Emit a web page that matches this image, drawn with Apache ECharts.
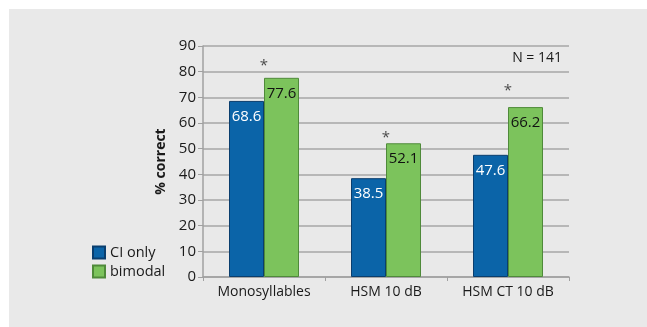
<!DOCTYPE html>
<html><head><meta charset="utf-8">
<script src="https://cdn.jsdelivr.net/npm/echarts@6/dist/echarts.min.js"></script>
<style>html,body{margin:0;padding:0;background:#fff}#c{position:absolute;left:9px;top:9px;width:638px;height:318px;background:#e9e9e9}</style>
</head><body><div id="c"></div>
<script>
const categories = ['Monosyllables', 'HSM 10 dB', 'HSM CT 10 dB'];
const ciOnly = [68.6, 38.5, 47.6];
const bimodal = [77.6, 52.1, 66.2];
const starY = [84, 56, 74];
const yTicks = [0, 10, 20, 30, 40, 50, 60, 70, 80, 90];
const font = 'Open Sans';
const chart = echarts.init(document.getElementById('c'));
chart.setOption({
  animation: false,
  textStyle: {fontFamily: font},
  grid: {left: 194, right: 78, top: 37, bottom: 50},
  legend: {
    data: ['CI only', 'bimodal'], orient: 'vertical', left: 78, top: 231,
    itemWidth: 12, itemHeight: 12, itemGap: 4, icon: 'rect',
    textStyle: {fontFamily: font, fontSize: 14.5, color: '#1a1a1a'}
  },
  xAxis: {
    type: 'category', data: categories,
    axisLine: {lineStyle: {color: '#a0a0a0', width: 1.5}},
    axisTick: {show: true, length: 4, lineStyle: {color: '#a0a0a0'}},
    axisLabel: {fontFamily: font, fontSize: 14, color: '#1a1a1a', margin: 8}
  },
  yAxis: {
    type: 'value', min: 0, max: 90, interval: 10,
    name: '% correct', nameLocation: 'middle', nameGap: 32, nameRotate: 90,
    nameTextStyle: {fontFamily: font, fontSize: 14, fontWeight: 'bold', color: '#1a1a1a'},
    axisLine: {show: true, lineStyle: {color: '#a0a0a0', width: 1.5}},
    axisTick: {show: true, length: 5, lineStyle: {color: '#a0a0a0'}},
    axisLabel: {fontFamily: font, fontSize: 15, color: '#1a1a1a', margin: 7,
      formatter: v => yTicks.includes(v) ? String(v) : ''},
    splitLine: {lineStyle: {color: '#a6a6a6', width: 1.5}}
  },
  series: [
    {name: 'CI only', type: 'bar', data: ciOnly, barWidth: 35, barGap: '0%',
     itemStyle: {color: '#0b64a8', borderColor: '#0a3e6e', borderWidth: 1},
     label: {show: true, position: 'insideTop', distance: 8, fontFamily: font, fontSize: 15, color: '#ffffff'}},
    {name: 'bimodal', type: 'bar', data: bimodal, barWidth: 35,
     itemStyle: {color: '#7cc35c', borderColor: '#4f8a3a', borderWidth: 1},
     label: {show: true, position: 'insideTop', distance: 8, fontFamily: font, fontSize: 15, color: '#111111'}},
    {name: 'sig', type: 'scatter', data: starY, symbol: 'circle', symbolSize: 2,
     itemStyle: {color: 'rgba(0,0,0,0)'}, z: 5,
     label: {show: true, position: 'inside', offset: [0, 4], formatter: '*', fontFamily: font, fontSize: 15, color: '#222222'}}
  ],
  graphic: [{type: 'text', right: 85, top: 42,
    style: {text: 'N = 141', font: '14px "Open Sans"', fill: '#1a1a1a'}}]
});
</script></body></html>
